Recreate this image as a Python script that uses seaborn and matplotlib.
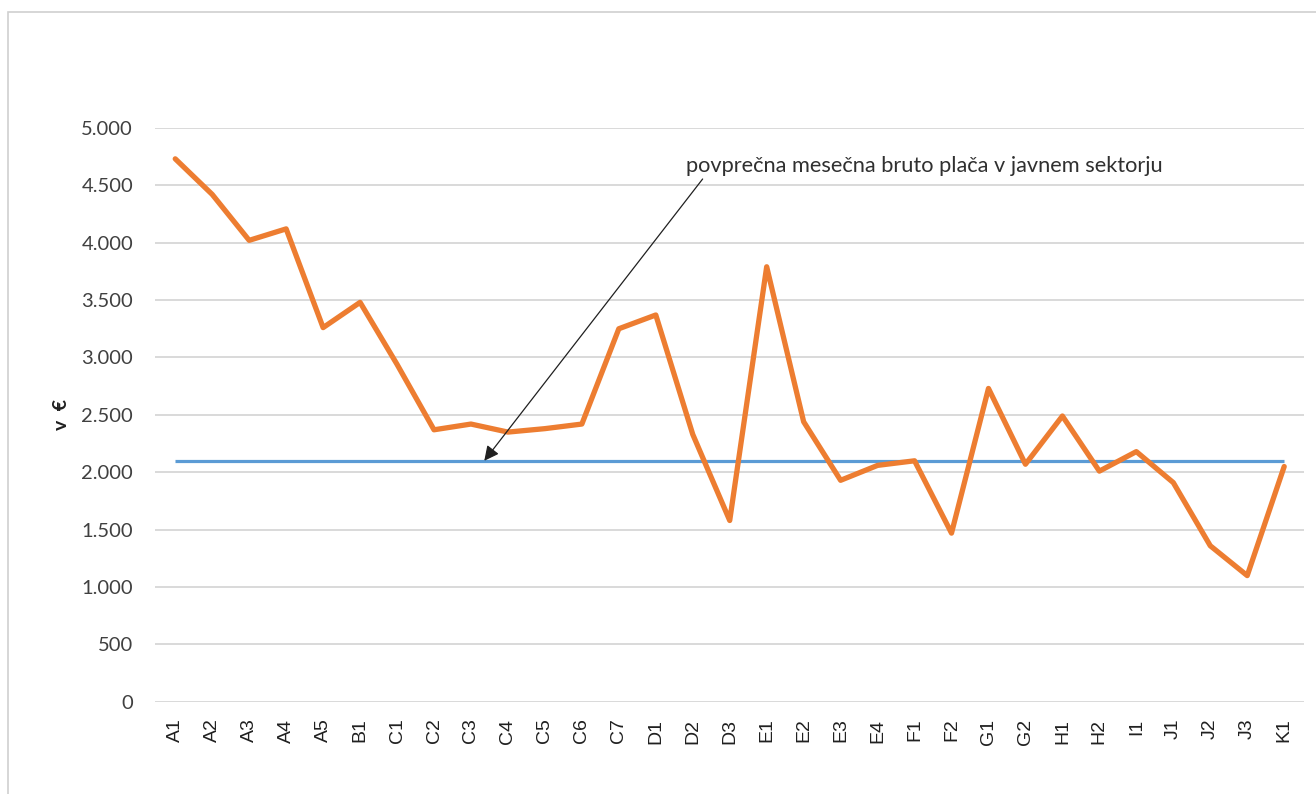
import matplotlib
matplotlib.use("Agg")
import matplotlib.pyplot as plt
import matplotlib.ticker as mticker
from matplotlib.patches import Rectangle
import pandas as pd
import seaborn as sns

CATEGORIES = ["A1", "A2", "A3", "A4", "A5", "B1", "C1", "C2", "C3", "C4", "C5",
              "C6", "C7", "D1", "D2", "D3", "E1", "E2", "E3", "E4", "F1", "F2",
              "G1", "G2", "H1", "H2", "I1", "J1", "J2", "J3", "K1"]
PLACA = [4730, 4420, 4020, 4120, 3260, 3480, 2940, 2370, 2420, 2350, 2380,
         2420, 3250, 3370, 2330, 1580, 3790, 2440, 1930, 2060, 2100, 1470,
         2730, 2070, 2490, 2010, 2180, 1910, 1360, 1100, 2050]
POVPRECJE_JAVNI = 2100
Y_TICKS = [0, 500, 1000, 1500, 2000, 2500, 3000, 3500, 4000, 4500, 5000]
ANNOT_TEXT = "povprečna mesečna bruto plača v javnem sektorju"

ORANGE = "#ED7D31"
BLUE = "#5B9BD5"
GRID = "#D9D9D9"

sns.set_style("white")
plt.rcParams["font.family"] = ["Lato", "DejaVu Sans"]

df = pd.DataFrame({"kategorija": CATEGORIES, "placa": PLACA})

fig = plt.figure(figsize=(13.16, 7.94), dpi=100)
ax = fig.add_axes([0.118, 0.116, 0.873, 0.723])

# frame around the whole chart area
fig.patches.append(Rectangle((8 / 1316, -0.01), 1.02, 1 - 12 / 794 + 0.01,
                             transform=fig.transFigure, fill=False,
                             edgecolor="#D0D0D0", linewidth=1.2))

sns.lineplot(data=df, x="kategorija", y="placa", sort=False, color=ORANGE,
             linewidth=3.8, ax=ax, zorder=3)
ax.hlines(POVPRECJE_JAVNI, CATEGORIES[0], CATEGORIES[-1], color=BLUE,
          linewidth=2.3, zorder=2)

ax.set_ylim(0, 5000)
ax.set_xlim(-0.54, len(CATEGORIES) - 1 + 0.54)
ax.set_yticks(Y_TICKS)
ax.yaxis.set_major_formatter(
    mticker.FuncFormatter(lambda v, p: f"{int(v):,}".replace(",", ".")))
ax.set_xticks(range(len(CATEGORIES)))
ax.set_xticklabels(CATEGORIES, family=["Liberation Sans", "DejaVu Sans"],
                   fontsize=14, rotation=90, color="#202020")
ax.grid(axis="y", color=GRID, linewidth=1.4)
ax.set_axisbelow(True)
for s in ax.spines.values():
    s.set_visible(False)
ax.tick_params(axis="y", length=0, pad=16, labelsize=14.5, labelcolor="#404040")
ax.tick_params(axis="x", length=0, pad=12)

ax.set_xlabel("")
ax.set_ylabel("v  €", fontsize=14, fontweight="bold", color="#202020",
              labelpad=8)

ax.annotate(ANNOT_TEXT, xy=(8.36, POVPRECJE_JAVNI), xytext=(13.82, 4670),
            fontsize=15.7, color="#303030", va="center", ha="left",
            arrowprops=dict(arrowstyle="-|>", color="#202020", lw=0.9,
                            mutation_scale=22, shrinkA=0, shrinkB=0,
                            relpos=(0.04, 0.0)))

fig.savefig("out.png", dpi=100)
